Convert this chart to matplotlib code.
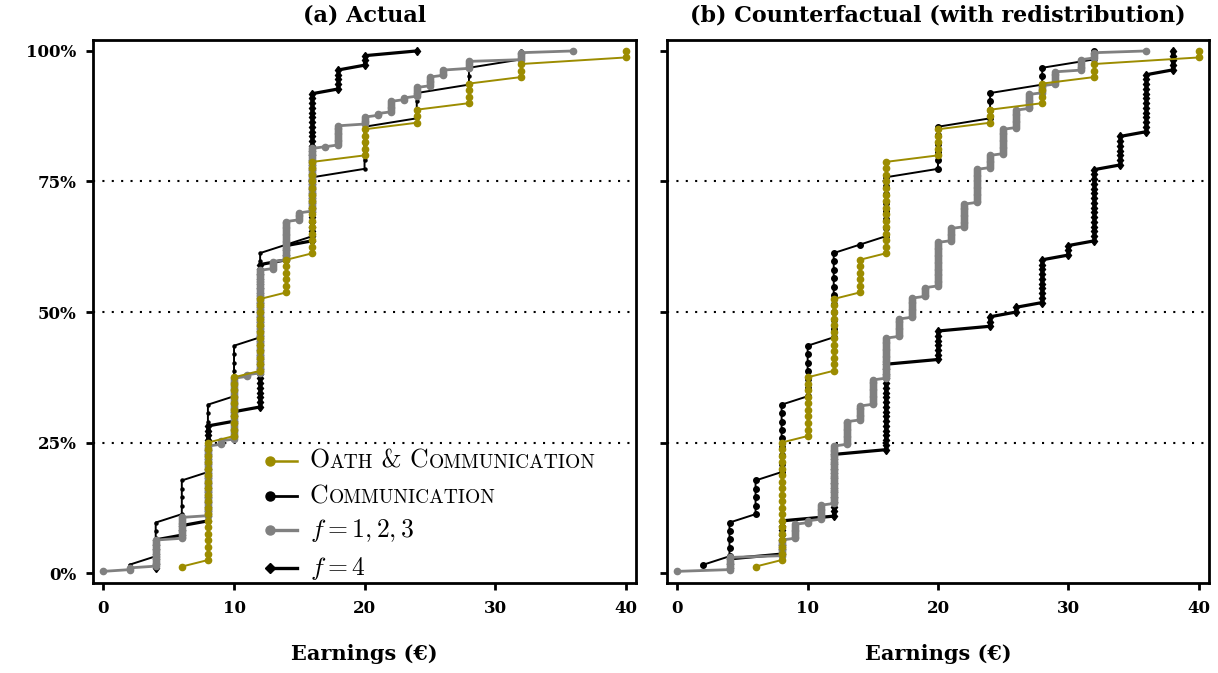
import numpy as np
import matplotlib
matplotlib.use("Agg")
import matplotlib.pyplot as plt
from matplotlib.lines import Line2D
from matplotlib.offsetbox import TextArea, HPacker, DrawingArea, AnchoredOffsetbox

plt.rcParams['mathtext.fontset'] = 'cm'
plt.rcParams['font.family'] = ['DejaVu Serif']
plt.rcParams['font.weight'] = 'bold'
plt.rcParams['axes.unicode_minus'] = False

# * Datos (ganancias en euros y cuantas observaciones hay en cada valor)

# Oath & Communication, igual en los dos paneles
oath_vals = [6, 8, 10, 12, 14, 16, 20, 24, 28, 32, 40]
oath_counts = [1, 19, 10, 12, 6, 15, 5, 3, 4, 3, 2]

# Communication, igual en los dos paneles
comm_vals = [2, 4, 6, 8, 10, 12, 14, 16, 20, 24, 28, 32]
comm_counts = [1, 5, 5, 9, 7, 11, 1, 8, 6, 4, 3, 2]

# f = 1,2,3  (a) actual
f123_vals_a = [0, 2, 4, 6, 8, 9, 10, 11, 12, 13, 14, 15, 16, 17, 18, 20, 21, 22, 23, 24, 25, 26, 28, 32, 36]
f123_counts_a = [1, 2, 16, 13, 41, 3, 36, 2, 60, 5, 23, 5, 37, 1, 12, 5, 2, 7, 2, 6, 6, 4, 5, 5, 1]

# f = 4  (a) actual
f4_vals_a = [4, 6, 8, 10, 12, 14, 16, 18, 20, 24]
f4_counts_a = [7, 3, 21, 3, 31, 4, 32, 5, 3, 1]

# f = 1,2,3  (b) contrafactual
f123_vals_b = [0, 4, 8, 9, 10, 11, 12, 13, 14, 15, 16, 17, 18, 19, 20, 21, 22, 23, 24, 25, 26, 27, 28, 29, 31, 32, 36]
f123_counts_b = [1, 8, 10, 9, 2, 9, 34, 14, 9, 15, 24, 11, 12, 6, 26, 8, 14, 20, 8, 15, 11, 9, 5, 8, 7, 4, 1]

# f = 4  (b) contrafactual
f4_vals_b = [4, 8, 12, 16, 20, 24, 26, 28, 30, 32, 34, 36, 38]
f4_counts_b = [3, 8, 14, 19, 7, 3, 2, 10, 3, 16, 7, 13, 5]

titulos = ['(a) Actual', '(b) Counterfactual (with redistribution)']
xticks = [0, 10, 20, 30, 40]
yticks = [0, 0.25, 0.5, 0.75, 1.0]
ytick_labels = ['0%', '25%', '50%', '75%', '100%']

olivo = '#9c8c00'
gris = '#808080'


def ecdf(vals, counts):
    x = np.repeat(vals, counts)
    y = np.arange(1, len(x) + 1) / len(x)
    return x, y


def versalitas(texto, grande=18.5, peque=14.0):
    # imita \textsc: mayusculas grandes, minusculas como mayusculas pequenas
    trozos = []
    actual = ''
    tipo = None
    for c in texto:
        t = 'p' if c.islower() else 'g'
        if tipo is not None and t != tipo:
            trozos.append((actual, tipo))
            actual = ''
        actual += c
        tipo = t
    trozos.append((actual, tipo))
    areas = []
    for s, t in trozos:
        size = peque if t == 'p' else grande
        areas.append(TextArea(s.upper(), textprops=dict(family='cmr10', weight='normal', size=size)))
    return HPacker(children=areas, align='baseline', pad=0, sep=0)


fig = plt.figure(figsize=(12.18, 6.73), dpi=100)
ax_a = fig.add_axes([0.0764, 0.1337, 0.4458, 0.8069])
ax_b = fig.add_axes([0.5476, 0.1337, 0.4450, 0.8069])

series = {
    ax_a: [(f4_vals_a, f4_counts_a), (f123_vals_a, f123_counts_a), 2.2],
    ax_b: [(f4_vals_b, f4_counts_b), (f123_vals_b, f123_counts_b), 4.0],
}

for ax, titulo in zip([ax_a, ax_b], titulos):
    (f4v, f4c), (f123v, f123c), ms_comm = series[ax]

    x, y = ecdf(f4v, f4c)
    ax.plot(x, y, color='black', lw=2.3, marker='d', ms=4.5, zorder=2)
    x, y = ecdf(comm_vals, comm_counts)
    ax.plot(x, y, color='black', lw=1.4, marker='o', ms=ms_comm, zorder=3)
    x, y = ecdf(f123v, f123c)
    ax.plot(x, y, color=gris, lw=2.0, marker='o', ms=4.5, zorder=4)
    x, y = ecdf(oath_vals, oath_counts)
    ax.plot(x, y, color=olivo, lw=1.4, marker='o', ms=4.5, zorder=5)

    for yy in [0.25, 0.5, 0.75]:
        ax.axhline(yy, color='black', lw=1.5, ls=(0, (1, 3.5)), zorder=1)

    ax.set_xlim(-0.8, 40.8)
    ax.set_ylim(-0.019, 1.021)
    ax.set_xticks(xticks)
    ax.set_xticklabels([str(v) for v in xticks])
    ax.set_yticks(yticks)
    ax.set_yticklabels(ytick_labels)
    ax.tick_params(direction='out', length=5, width=2, labelsize=12, pad=7)
    for sp in ax.spines.values():
        sp.set_linewidth(2)
    ax.set_title(titulo, fontsize=16, fontweight='bold', pad=13)
    ax.set_xlabel('Earnings (€)', fontsize=15, fontweight='bold', labelpad=20)

ax_b.tick_params(labelleft=False)

# * Leyenda hecha a mano (marcador a la izquierda, texto en versalitas)
leyenda = [
    (olivo, 'o', 1.8, versalitas('Oath & Communication')),
    ('black', 'o', 2.0, versalitas('Communication')),
    (gris, 'o', 2.4, TextArea(r'$f = 1, 2, 3$', textprops=dict(size=18.5))),
    ('black', 'D', 2.4, TextArea(r'$f = 4$', textprops=dict(size=18.5))),
]
filas_y = [0.2247, 0.160, 0.0976, 0.0276]

for (color, marca, lw, texto), fy in zip(leyenda, filas_y):
    da = DrawingArea(20, 10, 0, 0)
    da.add_artist(Line2D([0, 20], [5, 5], color=color, lw=lw))
    da.add_artist(Line2D([0], [5], color=color, marker=marca, ms=6.5 if marca == 'o' else 5.5, ls='none'))
    fila = HPacker(children=[da, texto], align='center', pad=0, sep=9)
    caja = AnchoredOffsetbox(loc='center left', child=fila, bbox_to_anchor=(0.325, fy),
                             bbox_transform=ax_a.transAxes, frameon=False, pad=0, borderpad=0)
    ax_a.add_artist(caja)

fig.savefig('out.png', dpi=100)
